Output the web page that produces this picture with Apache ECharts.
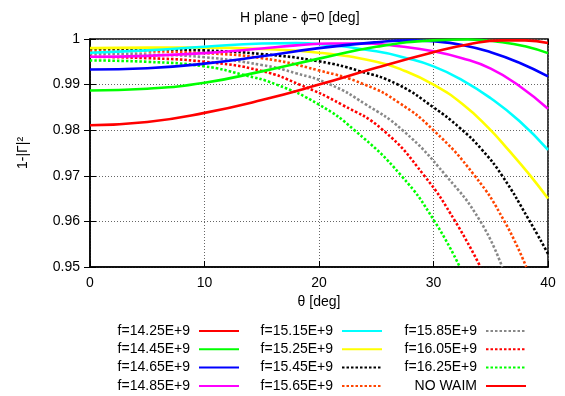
<!DOCTYPE html>
<html>
<head>
<meta charset="utf-8">
<script src="https://cdn.jsdelivr.net/npm/echarts@6/dist/echarts.min.js"></script>
<style>html,body{margin:0;padding:0;background:#fff}#c{width:565px;height:396px}</style>
</head>
<body>
<div id="c"></div>
<script>
// ---- data (theta [deg], 1-|Gamma|^2) ----
const xTicks = [0, 10, 20, 30, 40];
const yTicks = [0.95, 0.96, 0.97, 0.98, 0.99, 1];
const names = ['f=14.25E+9','f=14.45E+9','f=14.65E+9','f=14.85E+9',
               'f=15.15E+9','f=15.25E+9','f=15.45E+9','f=15.65E+9',
               'f=15.85E+9','f=16.05E+9','f=16.25E+9','NO WAIM'];
const f1425 = [[0,0.9811],[5,0.9818],[10,0.9838],[15,0.9866],[20,0.9900],[25,0.9937],[30,0.9971],[33,0.9988],[36,0.9997],[38,0.9997],[40,0.9991]];
const f1445 = [[0,0.9887],[5,0.9891],[10,0.9904],[15,0.9929],[20,0.9957],[25,0.9983],[30,0.9997],[33,0.9999],[36,0.9993],[38,0.9984],[40,0.9969]];
const f1465 = [[0,0.9933],[5,0.9936],[10,0.9946],[15,0.9962],[20,0.9980],[25,0.9993],[28,0.9997],[30,0.9995],[32.5,0.9987],[35,0.9971],[37.5,0.9948],[40,0.9918]];
const f1485 = [[0,0.9961],[5,0.9963],[10,0.9969],[15,0.9979],[18,0.9986],[21,0.9990],[24,0.9990],[27,0.9984],[30,0.9973],[32.5,0.9958],[35,0.9935],[37.5,0.9897],[40,0.9847]];
const f1515 = [[0,0.9970],[5,0.9975],[10,0.9983],[15,0.9990],[18,0.9991],[20,0.9989],[25,0.9973],[27.5,0.9959],[30,0.9940],[32.5,0.9910],[35,0.9870],[37.5,0.9820],[40,0.9757]];
const f1525 = [[0,0.9980],[5,0.9981],[10,0.9981],[15,0.9978],[20,0.9970],[25,0.9950],[27.5,0.9930],[30,0.9900],[32.5,0.9858],[34.8,0.9805],[36.6,0.9755],[38.4,0.9702],[40,0.9650]];
const f1545 = [[0,0.9979],[5,0.9978],[10,0.9975],[15,0.9967],[20,0.9951],[23.5,0.9930],[26.9,0.9900],[30,0.9850],[32.3,0.9805],[34.2,0.9758],[36,0.9700],[38.3,0.9605],[40,0.9529]];
const f1565 = [[0,0.9974],[5,0.9973],[10,0.9969],[15,0.9958],[20,0.9931],[24,0.9900],[27,0.9860],[30,0.9800],[33.6,0.9700],[36.2,0.9600],[38.1,0.9500]];
const f1585 = [[0,0.9968],[5,0.9966],[10,0.9960],[15,0.9943],[18,0.9925],[21,0.9900],[24,0.9858],[27.3,0.9800],[31.1,0.9700],[34.1,0.9600],[36,0.9500]];
const f1605 = [[0,0.9961],[5,0.9958],[10,0.9950],[15,0.9930],[18.3,0.9900],[22,0.9856],[25.6,0.9800],[29.2,0.9700],[31.9,0.9600],[34.1,0.9500]];
const f1625 = [[0,0.9953],[5,0.9950],[10,0.9940],[13.3,0.9922],[16.3,0.9900],[20,0.9856],[23.1,0.9800],[27.2,0.9700],[30.1,0.9600],[32.3,0.9500]];
const noWaim = [];

const seriesData = [f1425,f1445,f1465,f1485,f1515,f1525,f1545,f1565,f1585,f1605,f1625,noWaim];
const colors = ['#ff0000','#00ff00','#0000ff','#ff00ff','#00ffff','#ffff00','#000000','#ff4500','#888888','#ff0000','#00ff00','#ff0000'];
const dashed = [false,false,false,false,false,false,true,true,true,true,true,false];

const FONT = 'Liberation Sans, Arial, sans-serif';
const chart = echarts.init(document.getElementById('c'), null, {renderer:'canvas'});

const series = seriesData.map((d,i)=>({
  name: names[i], type:'line', data:d, smooth:0.5, symbol:'none', clip:true,
  color: colors[i],
  lineStyle:{color:colors[i], width:2.6, type: dashed[i]?[2.5,2]:'solid'},
  z: 10 - i*0.1
}));

function legendCol(left, data){
  return {
    show:true, orient:'vertical', left:left, top:323, padding:0, align:'right',
    itemWidth:40, itemHeight:14, itemGap:2.3, data:data, selectedMode:false,
    itemStyle:{opacity:0},
    textStyle:{fontFamily:FONT, fontSize:14, color:'#000', width:76, align:'right', padding:[0,4,0,0], lineHeight:16}
  };
}

chart.setOption({
  animation:false,
  backgroundColor:'#fff',
  title:{text:'H plane - \u03d5=0 [deg]', left:235, top:6,
    textStyle:{fontFamily:FONT, fontSize:14, fontWeight:'normal', color:'#000'}},
  grid:{left:90, right:17, top:39, bottom:129, show:true, borderColor:'#000', borderWidth:1.5, backgroundColor:'transparent'},
  legend:[legendCol(114, names.slice(0,4)), legendCol(257, names.slice(4,8)), legendCol(401, names.slice(8,12))],
  xAxis:[{
    type:'value', min:xTicks[0], max:xTicks[xTicks.length-1], interval:10,
    name:'\u03b8 [deg]', nameLocation:'middle', nameGap:25,
    nameTextStyle:{fontFamily:FONT, fontSize:14, color:'#000'},
    axisLine:{show:true, lineStyle:{color:'#000', width:1.5}},
    axisTick:{show:true, inside:true, length:6, lineStyle:{color:'#000'}},
    axisLabel:{fontFamily:FONT, fontSize:14, color:'#000', margin:9},
    splitLine:{show:true, lineStyle:{color:'#666', type:[1,2], width:1}}
  },{
    type:'value', position:'top', min:0, max:40, interval:10,
    axisLine:{show:false}, axisTick:{show:true, inside:true, length:6, lineStyle:{color:'#000'}},
    axisLabel:{show:false}, splitLine:{show:false}
  }],
  yAxis:[{
    type:'value', min:yTicks[0], max:yTicks[yTicks.length-1], interval:0.01,
    name:'1-|\u0393|\u00b2', nameLocation:'middle', nameGap:60, nameRotate:90,
    nameTextStyle:{fontFamily:FONT, fontSize:14, color:'#000'},
    axisLine:{show:true, lineStyle:{color:'#000', width:1.5}},
    axisTick:{show:true, inside:true, length:6, lineStyle:{color:'#000'}},
    axisLabel:{fontFamily:FONT, fontSize:14, color:'#000', margin:10,
      formatter:v=>String(Math.round(v*100)/100)},
    splitLine:{show:true, lineStyle:{color:'#666', type:[1,2], width:1}}
  },{
    type:'value', position:'right', min:0.95, max:1, interval:0.01,
    axisLine:{show:false}, axisTick:{show:true, inside:true, length:6, lineStyle:{color:'#000'}},
    axisLabel:{show:false}, splitLine:{show:false}
  }],
  series: series
});
</script>
</body>
</html>
